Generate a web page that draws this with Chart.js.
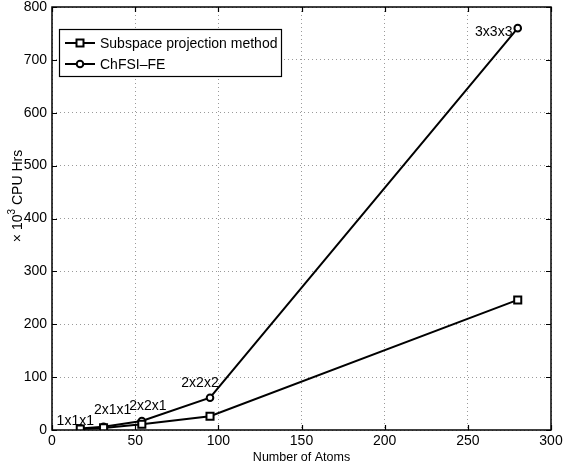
<!DOCTYPE html>
<html>
<head>
<meta charset="utf-8">
<script src="https://cdn.jsdelivr.net/npm/chart.js@4.4.1/dist/chart.umd.min.js"></script>
<style>
  html, body { margin: 0; padding: 0; background: #fff; }
  #wrap { width: 564px; height: 468px; }
</style>
</head>
<body>
<div id="wrap"><canvas id="cpuChart" width="564" height="468"></canvas></div>
<script>
const atoms = [17, 31, 54, 95, 280];
const subspaceHrs = [2, 4, 11, 26, 246];
const chfsiHrs = [3, 6, 17, 61, 760];
const cellLabels = ['1x1x1', '2x1x1', '2x2x1', '2x2x2', '3x3x3'];
const xTicks = [0, 50, 100, 150, 200, 250, 300];
const yTicks = [0, 100, 200, 300, 400, 500, 600, 700, 800];

const FONT = 'Liberation Sans, Arial, Helvetica, sans-serif';

function toPoints(xs, ys) {
	return xs.map((x, i) => ({ x: x, y: ys[i] }));
}

// frame + inward tick marks, like the matlab axes box
const framePlugin = {
	id: 'frame',
	afterDatasetsDraw(chart) {
		const { ctx, chartArea: a, scales } = chart;
		ctx.save();
		ctx.strokeStyle = '#000';
		ctx.lineWidth = 1.2;
		ctx.beginPath();
		scales.x.ticks.forEach(t => {
			const px = Math.round(scales.x.getPixelForValue(t.value)) + 0.5;
			ctx.moveTo(px, a.bottom); ctx.lineTo(px, a.bottom - 5);
			ctx.moveTo(px, a.top); ctx.lineTo(px, a.top + 5);
		});
		scales.y.ticks.forEach(t => {
			const py = Math.round(scales.y.getPixelForValue(t.value)) + 0.5;
			ctx.moveTo(a.left, py); ctx.lineTo(a.left + 5, py);
			ctx.moveTo(a.right, py); ctx.lineTo(a.right - 5, py);
		});
		ctx.stroke();
		ctx.lineWidth = 1.5;
		ctx.strokeRect(a.left, a.top, a.right - a.left, a.bottom - a.top);
		ctx.restore();
	}
};

// supercell size labels next to the ChFSI points
const labelOffsets = [[-5, -7], [9, -17], [6, -15], [-10, -15], [-24, 4]];
const cellLabelPlugin = {
	id: 'cellLabels',
	afterDatasetsDraw(chart) {
		const { ctx, scales } = chart;
		ctx.save();
		ctx.fillStyle = '#000';
		ctx.font = '14px ' + FONT;
		ctx.textAlign = 'center';
		ctx.textBaseline = 'middle';
		cellLabels.forEach((lbl, i) => {
			const px = scales.x.getPixelForValue(atoms[i]);
			const py = scales.y.getPixelForValue(chfsiHrs[i]);
			ctx.fillText(lbl, px + labelOffsets[i][0], py + labelOffsets[i][1]);
		});
		ctx.restore();
	}
};

// y title with a real superscript exponent
const yTitlePlugin = {
	id: 'yTitle',
	afterDraw(chart) {
		const { ctx } = chart;
		const parts = [['\u00d7 10', 14, 0], ['3', 10, -6], [' CPU Hrs', 14, 0]];
		ctx.save();
		ctx.translate(18, 196);
		ctx.rotate(-Math.PI / 2);
		ctx.fillStyle = '#000';
		ctx.textBaseline = 'middle';
		let total = 0;
		parts.forEach(p => { ctx.font = p[1] + 'px ' + FONT; total += ctx.measureText(p[0]).width; });
		let x = -total / 2;
		parts.forEach(p => {
			ctx.font = p[1] + 'px ' + FONT;
			ctx.fillText(p[0], x, p[2]);
			x += ctx.measureText(p[0]).width;
		});
		ctx.restore();
	}
};

// boxed legend in the upper left corner of the axes
const boxLegendPlugin = {
	id: 'boxLegend',
	afterDraw(chart) {
		const { ctx, chartArea: a } = chart;
		const x0 = a.left + 7, y0 = a.top + 22, w = 222, h = 47;
		ctx.save();
		ctx.fillStyle = '#fff';
		ctx.fillRect(x0, y0, w, h);
		ctx.strokeStyle = '#000';
		ctx.lineWidth = 1.2;
		ctx.strokeRect(x0 + 0.5, y0 + 0.5, w, h);
		ctx.font = '14px ' + FONT;
		ctx.textBaseline = 'middle';
		chart.data.datasets.forEach((ds, i) => {
			const ry = y0 + 14 + i * 21;
			ctx.strokeStyle = '#000';
			ctx.lineWidth = 2;
			ctx.beginPath();
			ctx.moveTo(x0 + 6, ry); ctx.lineTo(x0 + 36, ry);
			ctx.stroke();
			ctx.fillStyle = '#fff';
			ctx.beginPath();
			if (ds.pointStyle === 'rect') {
				ctx.rect(x0 + 17.5, ry - 3.5, 7, 7);
			} else {
				ctx.arc(x0 + 21, ry, 3.3, 0, Math.PI * 2);
			}
			ctx.fill();
			ctx.stroke();
			ctx.fillStyle = '#000';
			ctx.fillText(ds.label, x0 + 41, ry + 1);
		});
		ctx.restore();
	}
};

function createChart() {
	const ctx = document.getElementById('cpuChart').getContext('2d');
	return new Chart(ctx, {
		type: 'line',
		data: {
			datasets: [
				{
					label: 'Subspace projection method',
					data: toPoints(atoms, subspaceHrs),
					borderColor: '#000',
					backgroundColor: '#fff',
					borderWidth: 2,
					pointStyle: 'rect',
					pointRadius: 5,
					pointBorderWidth: 2,
					tension: 0
				},
				{
					label: 'ChFSI\u2013FE',
					data: toPoints(atoms, chfsiHrs),
					borderColor: '#000',
					backgroundColor: '#fff',
					borderWidth: 2,
					pointStyle: 'circle',
					pointRadius: 3.3,
					pointBorderWidth: 2,
					tension: 0
				}
			]
		},
		options: {
			responsive: false,
			animation: false,
			layout: { padding: { top: 7, right: 13, left: 0, bottom: 0 } },
			plugins: {
				legend: { display: false },
				tooltip: { enabled: false }
			},
			scales: {
				x: {
					type: 'linear',
					min: 0,
					max: 300,
					afterBuildTicks: s => { s.ticks = xTicks.map(v => ({ value: v })); },
					afterFit: s => { s.height = 38; s.paddingLeft = 0; s.paddingRight = 0; },
					ticks: { color: '#000', padding: 3, font: { family: FONT, size: 14 } },
					grid: { color: '#9a9a9a', lineWidth: 1, drawTicks: false },
					border: { display: false, dash: [1, 3] },
					title: {
						display: true,
						text: 'Number of Atoms',
						color: '#000',
						padding: { top: 0, bottom: 3 },
						font: { family: FONT, size: 12.5 }
					}
				},
				y: {
					min: 0,
					max: 800,
					afterBuildTicks: s => { s.ticks = yTicks.map(v => ({ value: v })); },
					afterFit: s => { s.width = 52; s.paddingTop = 0; s.paddingBottom = 0; },
					ticks: { color: '#000', padding: 5, font: { family: FONT, size: 14 } },
					grid: { color: '#9a9a9a', lineWidth: 1, drawTicks: false },
					border: { display: false, dash: [1, 3] },
					title: { display: false }
				}
			}
		},
		plugins: [framePlugin, cellLabelPlugin, yTitlePlugin, boxLegendPlugin]
	});
}

createChart();
</script>
</body>
</html>
